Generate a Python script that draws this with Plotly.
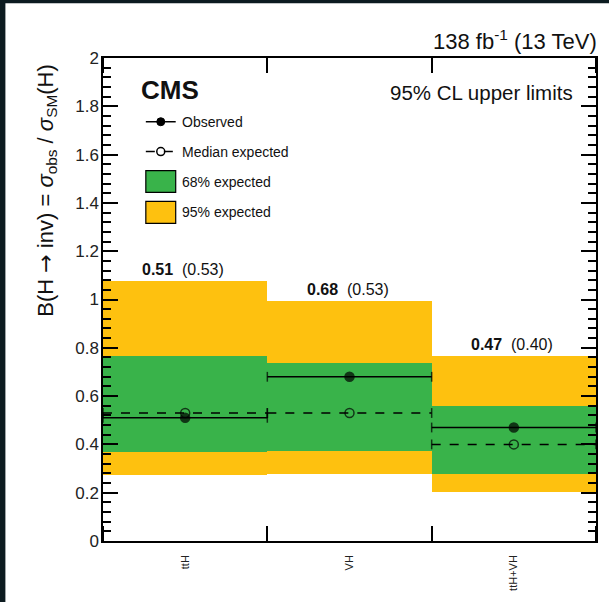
import plotly.graph_objects as go

# ---------------- data ----------------
categories = ["ttH", "VH", "ttH+VH"]
observed = [0.51, 0.68, 0.47]
expected = [0.53, 0.53, 0.40]
band68_lo = [0.367, 0.374, 0.278]
band68_hi = [0.766, 0.739, 0.560]
band95_lo = [0.272, 0.278, 0.202]
band95_hi = [1.078, 0.995, 0.767]

# ---------------- layout geometry ----------------
W, H = 609, 602
ML, MR, MT, MB = 103, 11, 58, 59
PW, PH = W - ML - MR, H - MT - MB
FONT = "Liberation Sans, Arial, sans-serif"
YELLOW = "#FEC10F"
GREEN = "#39B34A"
DARK = "#0c1b20"


def px(p):
    return (p - ML) / PW


def py(p):
    return (H - MB - p) / PH


n = len(categories)
centers = [i + 0.5 for i in range(n)]

fig = go.Figure()

# 95% band
fig.add_trace(go.Bar(
    x=centers, y=[h - l for h, l in zip(band95_hi, band95_lo)], base=band95_lo,
    width=1, marker=dict(color=YELLOW, line=dict(width=0)), showlegend=False,
    hoverinfo="skip"))
# 68% band
fig.add_trace(go.Bar(
    x=centers, y=[h - l for h, l in zip(band68_hi, band68_lo)], base=band68_lo,
    width=1, marker=dict(color=GREEN, line=dict(width=0)), showlegend=False,
    hoverinfo="skip"))

# expected (dashed) and observed (solid) lines with end caps
for i in range(n):
    xs = [i, i + 0.5, i + 1]
    fig.add_trace(go.Scatter(
        x=xs, y=[expected[i]] * 3, mode="lines+markers",
        line=dict(color="black", width=1.5, dash="dash"),
        marker=dict(symbol=["line-ns", "circle-open", "line-ns"], size=[7, 9, 7],
                    color="black", line=dict(color="black", width=1.5)),
        showlegend=False, cliponaxis=True, hoverinfo="skip"))
    fig.add_trace(go.Scatter(
        x=xs, y=[observed[i]] * 3, mode="lines+markers",
        line=dict(color="black", width=1.5),
        marker=dict(symbol=["line-ns", "circle", "line-ns"], size=[7, 9, 7],
                    color="black", line=dict(color="black", width=1.5)),
        showlegend=False, cliponaxis=True, hoverinfo="skip"))

annotations = []
# value labels above bands
for i in range(n):
    annotations.append(dict(
        x=centers[i], y=band95_hi[i], xref="x", yref="y",
        text=f"<b>{observed[i]:.2f}</b>\u00a0 ({expected[i]:.2f})",
        showarrow=False, yanchor="bottom", yshift=1, xshift=-2,
        font=dict(family=FONT, size=16, color="#111")))

# texts
annotations += [
    dict(x=px(601), y=py(40), xref="paper", yref="paper", xanchor="right", yanchor="middle",
         text="138 fb<sup>-1</sup> (13 TeV)", showarrow=False,
         font=dict(family=FONT, size=22, color="#111")),
    dict(x=px(577), y=py(93), xref="paper", yref="paper", xanchor="right", yanchor="middle",
         text="95% CL upper limits", showarrow=False,
         font=dict(family=FONT, size=20.5, color="#111")),
    dict(x=px(139), y=py(90), xref="paper", yref="paper", xanchor="left", yanchor="middle",
         text="<b>CMS</b>", showarrow=False,
         font=dict(family=FONT, size=26, color="#111")),
    dict(x=px(47), y=py(191), xref="paper", yref="paper", xanchor="center", yanchor="middle",
         textangle=-90,
         text=("B(H <span style=\"font-family:'DejaVu Sans'\">\u2192</span> inv) = "
               "<i>\u03c3</i><sub>obs</sub> / <i>\u03c3</i><sub>SM</sub>(H)"),
         showarrow=False, font=dict(family=FONT, size=22, color="#111")),
]

legend_labels = ["Observed", "Median expected", "68% expected", "95% expected"]
legend_y = [122, 152, 183, 213]
for lab, yy in zip(legend_labels, legend_y):
    annotations.append(dict(
        x=px(180), y=py(yy), xref="paper", yref="paper", xanchor="left", yanchor="middle",
        text=lab, showarrow=False, font=dict(family=FONT, size=14, color="#111")))

shapes = [
    # dark frame strips
    dict(type="rect", xref="paper", yref="paper", x0=px(-5), x1=px(5), y0=py(610), y1=py(-5),
         fillcolor=DARK, line=dict(width=0), layer="above"),
    dict(type="rect", xref="paper", yref="paper", x0=px(-5), x1=px(615), y0=py(3), y1=py(-5),
         fillcolor=DARK, line=dict(width=0), layer="above"),
    # legend: observed
    dict(type="line", xref="paper", yref="paper", x0=px(146), x1=px(176), y0=py(122), y1=py(122),
         line=dict(color="black", width=1.5)),
    dict(type="circle", xref="paper", yref="paper", xsizemode="pixel", ysizemode="pixel",
         xanchor=px(161), yanchor=py(122), x0=-4, x1=4, y0=-4, y1=4,
         fillcolor="black", line=dict(color="black", width=1)),
    # legend: expected
    dict(type="line", xref="paper", yref="paper", x0=px(146), x1=px(176), y0=py(152), y1=py(152),
         line=dict(color="black", width=1.5, dash="dash")),
    dict(type="circle", xref="paper", yref="paper", xsizemode="pixel", ysizemode="pixel",
         xanchor=px(161), yanchor=py(152), x0=-4, x1=4, y0=-4, y1=4,
         fillcolor="rgba(0,0,0,0)", line=dict(color="black", width=1.5)),
    # legend boxes
    dict(type="rect", xref="paper", yref="paper", x0=px(146), x1=px(176), y0=py(193), y1=py(171),
         fillcolor=GREEN, line=dict(color="black", width=1.2)),
    dict(type="rect", xref="paper", yref="paper", x0=px(146), x1=px(176), y0=py(224), y1=py(202),
         fillcolor=YELLOW, line=dict(color="black", width=1.2)),
]

fig.update_layout(
    width=W, height=H,
    margin=dict(l=ML, r=MR, t=MT, b=MB, pad=0),
    paper_bgcolor="white", plot_bgcolor="white",
    barmode="overlay", bargap=0,
    showlegend=False,
    annotations=annotations, shapes=shapes,
    font=dict(family=FONT, color="#111"),
)
fig.update_xaxes(
    range=[0, n], tickmode="array", tickvals=centers, ticktext=categories,
    tickangle=-90, ticks="", ticklabelstandoff=8,
    tickfont=dict(family=FONT, size=11, color="#222"),
    minor=dict(ticks="inside", tick0=0, dtick=1, ticklen=15, tickwidth=1.5, tickcolor="black"),
    showline=True, linecolor="black", linewidth=1.5, mirror="allticks",
    showgrid=False, zeroline=False, fixedrange=True,
)
fig.update_yaxes(
    range=[0, 2], tick0=0, dtick=0.2, ticks="inside", ticklen=15, tickwidth=1.5,
    tickcolor="black", ticklabelstandoff=-1,
    minor=dict(ticks="inside", dtick=0.04, ticklen=8, tickwidth=1.5, tickcolor="black"),
    tickfont=dict(family=FONT, size=17, color="#222"),
    showline=True, linecolor="black", linewidth=1.5, mirror="allticks",
    showgrid=False, zeroline=False, fixedrange=True,
)

fig.write_html(
    "out.html",
    config={"displayModeBar": False},
    post_script="document.body.style.margin='0px';document.body.style.overflow='hidden';",
)
